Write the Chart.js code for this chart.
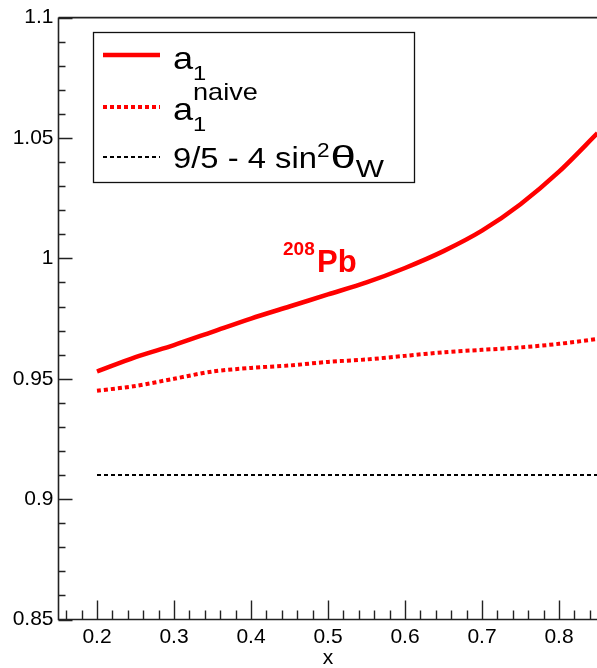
<!DOCTYPE html>
<html>
<head>
<meta charset="utf-8">
<script src="https://cdn.jsdelivr.net/npm/chart.js@4.4.0/dist/chart.umd.min.js"></script>
<style>
  html, body { margin: 0; padding: 0; background: #fff; overflow: hidden; }
  #wrap { width: 597px; height: 668px; overflow: hidden; }
</style>
</head>
<body>
<div id="wrap"><canvas id="plot" width="600" height="671"></canvas></div>
<script>
// values
const xValues = [0.20, 0.25, 0.30, 0.35, 0.40, 0.45, 0.50, 0.55, 0.60, 0.65, 0.70, 0.75, 0.80, 0.85];
const a1Values = [0.953, 0.959, 0.964, 0.9695, 0.975, 0.980, 0.985, 0.990, 0.996, 1.003, 1.0115, 1.0225, 1.036, 1.052];
const a1NaiveValues = [0.945, 0.947, 0.950, 0.953, 0.9545, 0.9555, 0.957, 0.958, 0.9595, 0.961, 0.962, 0.963, 0.9645, 0.9665];
const smX = [0.2, 0.85];
const smValues = [0.91, 0.91];

const xTicks = [0.2, 0.3, 0.4, 0.5, 0.6, 0.7, 0.8];
const xTickLabels = ["0.2", "0.3", "0.4", "0.5", "0.6", "0.7", "0.8"];
const yTicks = [0.85, 0.9, 0.95, 1, 1.05, 1.1];
const yTickLabels = ["0.85", "0.9", "0.95", "1", "1.05", "1.1"];

const FONT = '"Liberation Sans", Arial, Helvetica, sans-serif';

function pts(xs, ys) {
  return xs.map((x, i) => ({ x: x, y: ys[i] }));
}

// text with sub/superscripts, a bit wider than the plain font (like the original)
function drawRich(ctx, x, y, parts, sx) {
  sx = sx || 1;
  let cx = x;
  for (const p of parts) {
    const k = sx * (p.sx || 1);
    ctx.save();
    ctx.font = (p.bold ? "bold " : "") + p.size + "px " + FONT;
    ctx.translate(cx, y + (p.dy || 0));
    ctx.scale(k, 1);
    ctx.fillText(p.text, 0, 0);
    cx += ctx.measureText(p.text).width * k + (p.gap || 0);
    ctx.restore();
  }
}

// frame + inward ticks like the original plot
const framePlugin = {
  id: "frame",
  afterDatasetsDraw(chart) {
    const ctx = chart.ctx;
    const a = chart.chartArea;
    const xs = chart.scales.x, ys = chart.scales.y;
    ctx.save();
    ctx.strokeStyle = "#222";
    ctx.lineWidth = 1.6;
    ctx.beginPath();
    ctx.moveTo(a.left, a.top); ctx.lineTo(a.left, a.bottom); ctx.lineTo(a.right + 5, a.bottom);
    ctx.moveTo(a.left, a.top); ctx.lineTo(a.right + 5, a.top);
    ctx.stroke();

    ctx.lineWidth = 1.4;
    ctx.beginPath();
    // y ticks every 0.01
    for (let i = 0; i <= 25; i++) {
      const v = 0.85 + i * 0.01;
      const py = Math.round(ys.getPixelForValue(v)) + 0.5;
      const len = (i % 5 === 0) ? 14 : 7;
      ctx.moveTo(a.left, py); ctx.lineTo(a.left + len, py);
    }
    // x ticks every 0.02
    for (let i = 0; i <= 35; i++) {
      const v = 0.16 + i * 0.02;
      if (v > xs.max + 1e-9) break;
      const px = Math.round(xs.getPixelForValue(v)) + 0.5;
      const major = Math.abs(v * 10 - Math.round(v * 10)) < 1e-6;
      const len = major ? 19 : 9;
      ctx.moveTo(px, a.bottom); ctx.lineTo(px, a.bottom - len);
    }
    ctx.stroke();
    ctx.restore();
  },
  afterDraw(chart) {
    const ctx = chart.ctx;
    ctx.save();
    // legend box
    ctx.fillStyle = "#fff";
    ctx.fillRect(93, 32, 322, 151);
    ctx.strokeStyle = "#111";
    ctx.lineWidth = 1.3;
    ctx.strokeRect(93.5, 32.5, 321, 150);

    ctx.strokeStyle = "#ff0000";
    ctx.lineWidth = 4.5;
    ctx.beginPath(); ctx.moveTo(103, 55); ctx.lineTo(160, 55); ctx.stroke();
    ctx.lineWidth = 4;
    ctx.setLineDash([4, 3]);
    ctx.beginPath(); ctx.moveTo(103, 107); ctx.lineTo(160, 107); ctx.stroke();
    ctx.strokeStyle = "#000";
    ctx.lineWidth = 2;
    ctx.beginPath(); ctx.moveTo(103, 157); ctx.lineTo(160, 157); ctx.stroke();
    ctx.setLineDash([]);

    const SX = 1.13;
    ctx.fillStyle = "#000";
    ctx.textBaseline = "alphabetic";
    ctx.textAlign = "left";
    drawRich(ctx, 173, 69, [{ text: "a", size: 32 }, { text: "1", size: 21, dy: 11 }], SX);
    drawRich(ctx, 173, 120, [{ text: "a", size: 32 }], SX);
    drawRich(ctx, 193, 131, [{ text: "1", size: 21 }], SX);
    drawRich(ctx, 193, 100, [{ text: "naive", size: 24 }], SX);
    drawRich(ctx, 173, 168, [
      { text: "9/5 - 4 sin", size: 29 },
      { text: "2", size: 20, dy: -11, gap: 1 },
      { text: "\u03B8", size: 31, sx: 1.3 },
      { text: "W", size: 23, dy: 9, sx: 1.15 }
    ], SX);

    // nucleus label
    ctx.fillStyle = "#ff0000";
    drawRich(ctx, 283, 255, [{ text: "208", size: 19, bold: true }]);
    drawRich(ctx, 317, 272, [{ text: "Pb", size: 31, bold: true }]);
    ctx.restore();
  }
};

new Chart(document.getElementById("plot"), {
  type: "scatter",
  data: {
    datasets: [
      {
        label: "a1",
        data: pts(xValues, a1Values),
        showLine: true,
        borderColor: "#ff0000",
        borderWidth: 4.5,
        pointRadius: 0,
        tension: 0.3
      },
      {
        label: "a1 naive",
        data: pts(xValues, a1NaiveValues),
        showLine: true,
        borderColor: "#ff0000",
        borderWidth: 4,
        borderDash: [4, 3],
        pointRadius: 0,
        tension: 0.3
      },
      {
        label: "9/5 - 4 sin2 thetaW",
        data: pts(smX, smValues),
        showLine: true,
        borderColor: "#000",
        borderWidth: 2,
        borderDash: [4, 3],
        pointRadius: 0
      }
    ]
  },
  options: {
    responsive: false,
    animation: false,
    layout: { padding: { top: 15, right: 2.5, left: 0, bottom: 0 } },
    plugins: { legend: { display: false }, tooltip: { enabled: false } },
    scales: {
      x: {
        type: "linear",
        min: 0.15,
        max: 0.85,
        afterFit(scale) { scale.height = 51.5; },
        afterBuildTicks(scale) { scale.ticks = xTicks.map(v => ({ value: v })); },
        grid: { display: false, drawTicks: false },
        border: { display: false },
        ticks: {
          padding: 5,
          color: "#000",
          font: { family: FONT, size: 21 },
          maxRotation: 0,
          callback: (v) => { const i = xTicks.findIndex(t => Math.abs(t - v) < 1e-6); return i >= 0 ? xTickLabels[i] : ""; }
        },
        title: { display: true, text: "x", color: "#000", font: { family: FONT, size: 21 }, padding: { top: 0, bottom: 0 } }
      },
      y: {
        type: "linear",
        min: 0.85,
        max: 1.1,
        afterFit(scale) { scale.width = 58.5; },
        afterBuildTicks(scale) { scale.ticks = yTicks.map(v => ({ value: v })); },
        grid: { display: false, drawTicks: false },
        border: { display: false },
        ticks: {
          padding: 5,
          color: "#000",
          font: { family: FONT, size: 21 },
          callback: (v) => { const i = yTicks.findIndex(t => Math.abs(t - v) < 1e-6); return i >= 0 ? yTickLabels[i] : ""; }
        }
      }
    }
  },
  plugins: [framePlugin]
});
</script>
</body>
</html>
